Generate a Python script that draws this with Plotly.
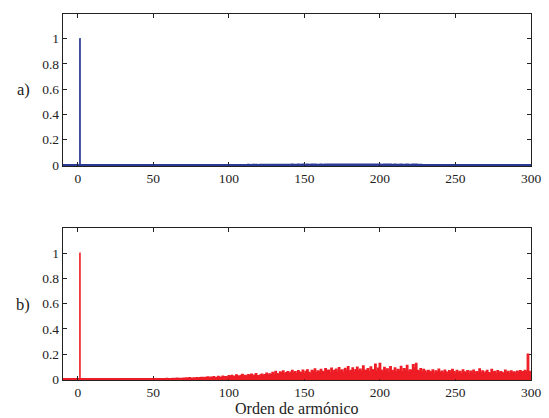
import plotly.graph_objects as go
from plotly.subplots import make_subplots

harmonics = list(range(1, 301))

# a) spectrum (blue)
blue_vals = [
    1.0, 0, 0, 0, 0, 0, 0, 0, 0, 0,
    0, 0, 0, 0, 0, 0, 0, 0, 0, 0,
    0, 0, 0, 0, 0, 0, 0, 0, 0, 0,
    0, 0, 0, 0, 0, 0, 0, 0, 0, 0,
    0, 0, 0, 0, 0, 0, 0, 0, 0, 0,
    0, 0, 0, 0, 0, 0, 0, 0, 0, 0,
    0, 0, 0, 0, 0, 0, 0, 0, 0, 0,
    0, 0, 0, 0, 0, 0, 0, 0, 0, 0,
    0, 0, 0, 0, 0, 0, 0, 0, 0, 0,
    0, 0, 0, 0, 0, 0, 0, 0, 0, 0,
    0, 0, 0.002, 0, 0.002, 0, 0.002, 0, 0.002, 0,
    0.002, 0, 0.003, 0, 0.002, 0.003, 0, 0.003, 0.002, 0,
    0.003, 0.003, 0, 0.003, 0.004, 0, 0.003, 0.002, 0.004, 0,
    0.004, 0.003, 0, 0.004, 0.003, 0.004, 0, 0.004, 0.004, 0.003,
    0.004, 0.005, 0.003, 0.004, 0, 0.005, 0.004, 0.003, 0.005, 0.003,
    0.004, 0.005, 0.004, 0.003, 0.005, 0.004, 0.005, 0.003, 0.004, 0.004,
    0.005, 0.004, 0.003, 0.005, 0.004, 0.005, 0.003, 0.005, 0.004, 0.005,
    0.005, 0.004, 0.006, 0.004, 0.005, 0.003, 0.005, 0.004, 0.006, 0.004,
    0.005, 0.005, 0.004, 0.005, 0.006, 0.004, 0.005, 0.004, 0.006, 0.005,
    0.004, 0.005, 0.004, 0.006, 0.005, 0.004, 0.006, 0.004, 0.005, 0.006,
    0.004, 0.003, 0.005, 0.004, 0.005, 0.003, 0.005, 0.004, 0.003, 0.005,
    0.003, 0.004, 0.003, 0.005, 0.003, 0.004, 0.004, 0.005, 0.003, 0.004,
    0.003, 0.005, 0.004, 0.005, 0.003, 0, 0.003, 0, 0.002, 0,
    0, 0.002, 0, 0, 0.002, 0, 0, 0, 0.002, 0,
    0, 0, 0, 0, 0, 0, 0, 0, 0, 0,
    0, 0, 0, 0, 0, 0, 0, 0, 0, 0,
    0, 0, 0, 0, 0, 0, 0, 0, 0, 0,
    0, 0, 0, 0, 0, 0, 0, 0, 0, 0,
    0, 0, 0, 0, 0, 0, 0, 0, 0, 0,
    0, 0, 0, 0, 0, 0, 0, 0, 0, 0,
]

# b) spectrum (red)
red_vals = [
    1.0, 0, 0, 0, 0, 0, 0, 0, 0, 0,
    0, 0, 0, 0, 0, 0, 0, 0, 0, 0,
    0, 0, 0, 0, 0, 0, 0, 0, 0, 0.004,
    0.002, 0, 0, 0.003, 0, 0, 0, 0.002, 0, 0.004,
    0, 0.002, 0, 0, 0.003, 0, 0.002, 0, 0.003, 0.002,
    0.003, 0.002, 0.004, 0.003, 0.002, 0.005, 0.003, 0.004, 0.006, 0.003,
    0.005, 0.004, 0.007, 0.003, 0.006, 0.008, 0.004, 0.007, 0.005, 0.009,
    0.006, 0.01, 0.007, 0.012, 0.008, 0.006, 0.011, 0.009, 0.013, 0.007,
    0.012, 0.015, 0.009, 0.014, 0.011, 0.018, 0.01, 0.016, 0.013, 0.02,
    0.015, 0.012, 0.022, 0.017, 0.014, 0.025, 0.019, 0.021, 0.016, 0.028,
    0.02, 0.03, 0.024, 0.018, 0.035, 0.027, 0.022, 0.031, 0.038, 0.025,
    0.03, 0.022, 0.036, 0.028, 0.04, 0.026, 0.033, 0.045, 0.029, 0.024,
    0.034, 0.041, 0.028, 0.037, 0.048, 0.031, 0.043, 0.036, 0.055, 0.04,
    0.062, 0.045, 0.038, 0.058, 0.05, 0.066, 0.042, 0.053, 0.06, 0.047,
    0.056, 0.07, 0.049, 0.061, 0.044, 0.068, 0.057, 0.052, 0.072, 0.046,
    0.063, 0.075, 0.055, 0.048, 0.07, 0.06, 0.082, 0.051, 0.066, 0.058,
    0.078, 0.062, 0.054, 0.085, 0.067, 0.073, 0.05, 0.088, 0.064, 0.07,
    0.081, 0.059, 0.092, 0.066, 0.074, 0.056, 0.086, 0.069, 0.1, 0.063,
    0.071, 0.09, 0.058, 0.077, 0.095, 0.066, 0.08, 0.061, 0.105, 0.072,
    0.068, 0.085, 0.06, 0.098, 0.076, 0.07, 0.12, 0.065, 0.088, 0.125,
    0.072, 0.06, 0.094, 0.068, 0.083, 0.055, 0.1, 0.07, 0.062, 0.09,
    0.058, 0.078, 0.066, 0.102, 0.06, 0.085, 0.072, 0.11, 0.064, 0.075,
    0.068, 0.115, 0.09, 0.125, 0.07, 0.062, 0.085, 0.058, 0.078, 0.066,
    0.05, 0.07, 0.062, 0.055, 0.074, 0.048, 0.066, 0.058, 0.08, 0.052,
    0.064, 0.05, 0.072, 0.058, 0.046, 0.068, 0.055, 0.078, 0.06, 0.048,
    0.07, 0.055, 0.062, 0.045, 0.075, 0.058, 0.05, 0.068, 0.042, 0.064,
    0.056, 0.072, 0.048, 0.06, 0.052, 0.082, 0.05, 0.066, 0.045, 0.058,
    0.07, 0.052, 0.046, 0.078, 0.055, 0.062, 0.048, 0.068, 0.05, 0.06,
    0.055, 0.045, 0.072, 0.05, 0.062, 0.044, 0.066, 0.052, 0.058, 0.048,
    0.064, 0.05, 0.068, 0.055, 0.06, 0.07, 0.058, 0.2, 0.062, 0.055,
]

x_ticks = [0, 50, 100, 150, 200, 250, 300]
y_ticks = [0, 0.2, 0.4, 0.6, 0.8, 1]
y_tick_text = ["0", "0.2", "0.4", "0.6", "0.8", "1"]
panel_labels = ["a)", "b)"]
x_title = "Orden de armónico"

BLUE = "#2b3a94"
RED = "#ee1c25"
FONT = "Liberation Serif"

fig = make_subplots(rows=2, cols=1)

fig.add_trace(go.Scatter(x=harmonics, y=blue_vals, mode="lines", line=dict(color=BLUE, width=1.5, shape="hvh"),
                         fill="tozeroy", fillcolor=BLUE, showlegend=False), row=1, col=1)
fig.add_trace(go.Scatter(x=harmonics, y=red_vals, mode="lines", line=dict(color=RED, width=1.3, shape="hvh"),
                         fill="tozeroy", fillcolor=RED, showlegend=False), row=2, col=1)

xdom = [62.7 / 549, 531 / 549]
common_x = dict(range=[-10, 300], tickvals=x_ticks, ticks="inside", ticklen=4, tickcolor="#222",
                showline=True, linecolor="#222", linewidth=1, mirror="ticks", showgrid=False, zeroline=False,
                domain=xdom, automargin=False, layer="below traces",
                tickfont=dict(family=FONT, size=13.5, color="#222"))
common_y = dict(range=[-0.006, 1.2], tickvals=y_ticks, ticktext=y_tick_text, ticks="inside", ticklen=4,
                tickcolor="#222", showline=True, linecolor="#222", linewidth=1, mirror="ticks", showgrid=False,
                zeroline=True, zerolinewidth=2, automargin=False, layer="below traces",
                tickfont=dict(family=FONT, size=13.5, color="#222"))

fig.update_xaxes(**common_x)
fig.update_yaxes(**common_y)
fig.update_yaxes(domain=[1 - 165.7 / 418, 1 - 13.5 / 418], zerolinecolor=BLUE, row=1, col=1)
fig.update_yaxes(domain=[1 - 380 / 418, 1 - 228 / 418], zerolinecolor=RED, row=2, col=1)

annotations = [
    dict(text=panel_labels[0], x=23 / 549, y=1 - 89 / 418, xref="paper", yref="paper", showarrow=False,
         font=dict(family=FONT, size=16.5, color="#222"), xanchor="center", yanchor="middle"),
    dict(text=panel_labels[1], x=23 / 549, y=1 - 304 / 418, xref="paper", yref="paper", showarrow=False,
         font=dict(family=FONT, size=16.5, color="#222"), xanchor="center", yanchor="middle"),
    dict(text=x_title, x=(62.7 + 531) / 2 / 549, y=0, xref="paper", yref="paper", showarrow=False,
         font=dict(family=FONT, size=16, color="#222"), xanchor="center", yanchor="bottom", yshift=-1),
]

fig.update_layout(width=549, height=418, margin=dict(l=0, r=0, t=0, b=0),
                  plot_bgcolor="white", paper_bgcolor="white", annotations=annotations)

fig.write_html("out.html")
